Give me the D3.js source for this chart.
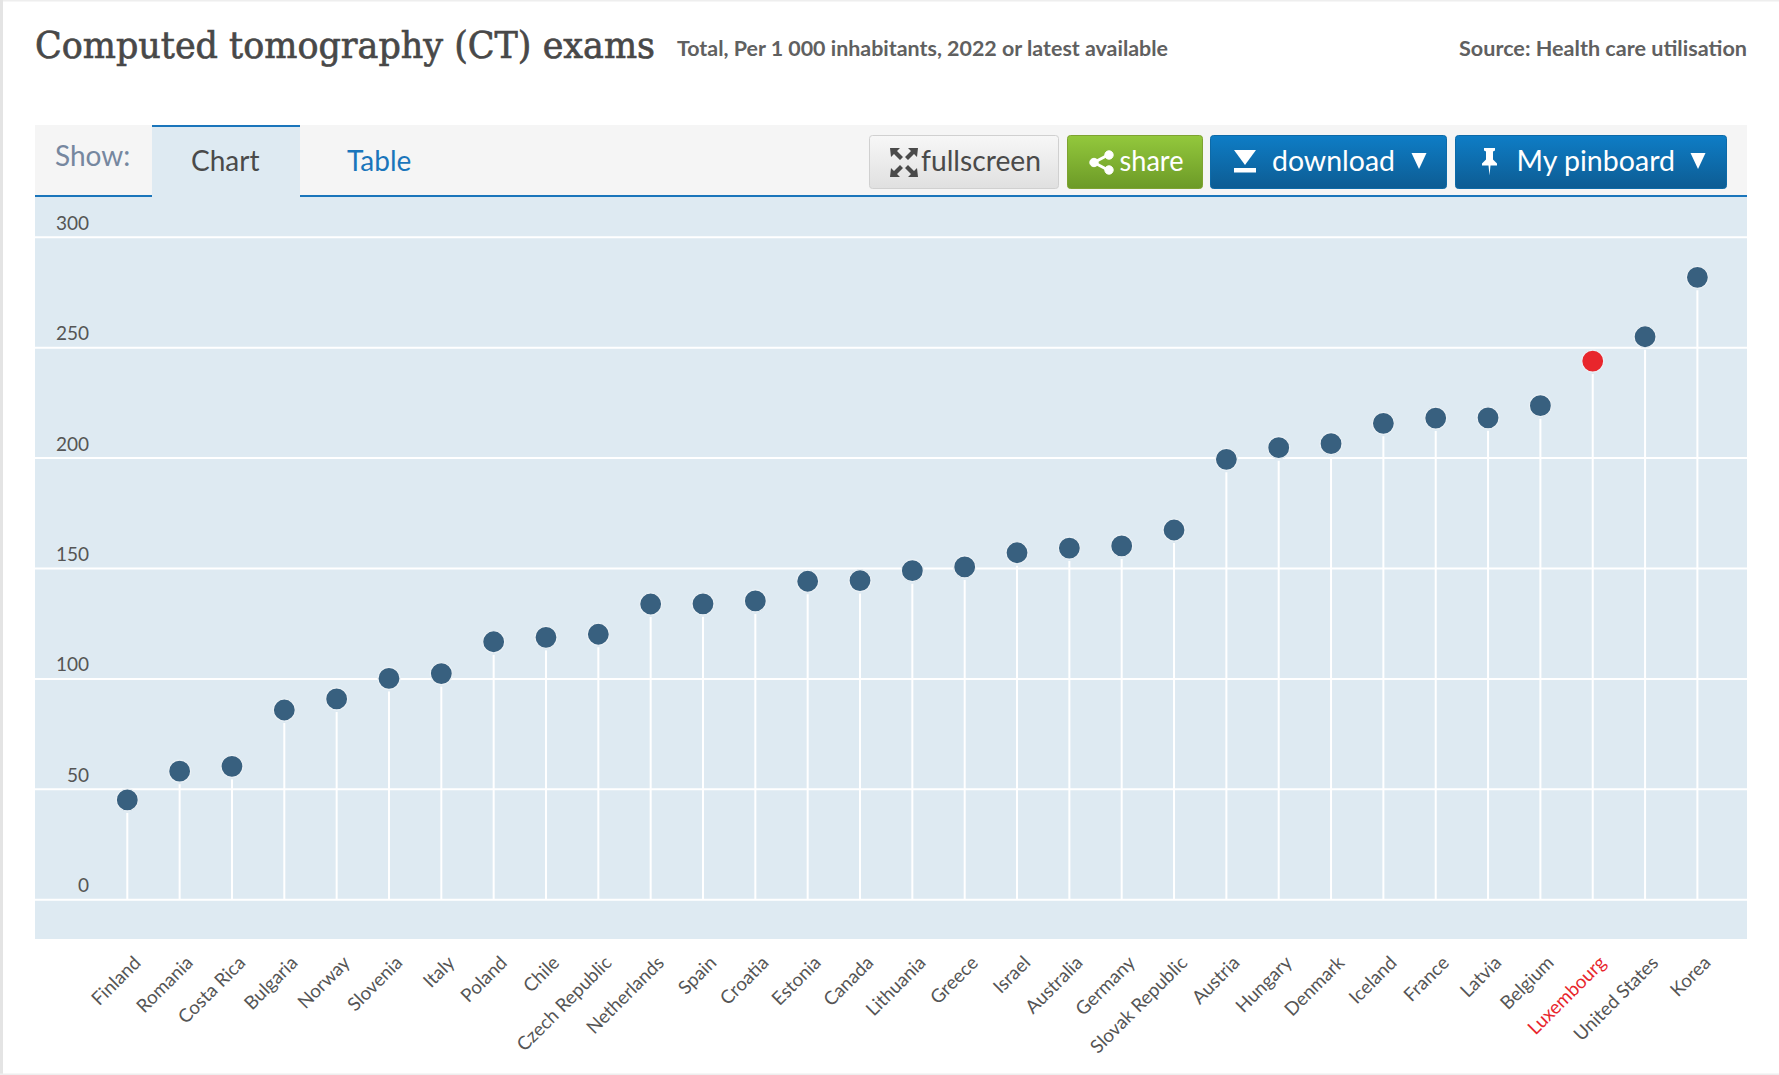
<!DOCTYPE html>
<html><head><meta charset="utf-8">
<script src="https://cdn.jsdelivr.net/npm/d3@7"></script>
<style>
html,body{margin:0;padding:0;background:#fff;overflow:hidden}
svg{display:block}
text{font-family:Lato,"Open Sans",sans-serif}
.x text{font-size:18.7px;fill:#555}
.y text{font-size:19px;fill:#555}
.x path,.x line,.y path{display:none}
.y line{stroke:#fff;stroke-width:2}
.btn{font-size:28px}
</style></head><body>
<svg id="c" width="1779" height="1075"></svg>
<script>
const countries=["Finland","Romania","Costa Rica","Bulgaria","Norway","Slovenia","Italy","Poland","Chile","Czech Republic","Netherlands","Spain","Croatia","Estonia","Canada","Lithuania","Greece","Israel","Australia","Germany","Slovak Republic","Austria","Hungary","Denmark","Iceland","France","Latvia","Belgium","Luxembourg","United States","Korea"];
const values=[45,58,60.2,85.7,90.7,100,102.2,116.6,118.6,120,133.7,133.8,135.1,144,144.3,148.8,150.5,156.9,159,160,167.2,199.2,204.5,206.3,215.5,217.9,218,223.5,243.7,254.7,281.6];
const yTicks=[0,50,100,150,200,250,300];
const highlight="Luxembourg";
const blue="#1a75bb",panel="#deeaf2",dot="#38607f",red="#e8262c";

const svg=d3.select("#c");
const defs=svg.append("defs");
function grad(id,a,b){const g=defs.append("linearGradient").attr("id",id).attr("x1",0).attr("x2",0).attr("y1",0).attr("y2",1);
 g.append("stop").attr("offset",0).attr("stop-color",a);g.append("stop").attr("offset",1).attr("stop-color",b);}
grad("gGrey","#f7f7f7","#e0e0e0");grad("gGreen","#93c83c","#6c9a27");grad("gBlue","#0e7dc6","#0d5c93");

// page edges
svg.append("rect").attr("x",0).attr("y",0).attr("width",1779).attr("height",1.5).attr("fill","#eeeeee");
svg.append("rect").attr("x",0).attr("y",0).attr("width",3).attr("height",1075).attr("fill","#e4e4e4");
svg.append("rect").attr("x",0).attr("y",1073.5).attr("width",1779).attr("height",1.5).attr("fill","#eeeeee");

// header
svg.append("text").attr("x",35).attr("y",58).attr("textLength",620).attr("lengthAdjust","spacingAndGlyphs")
 .style("font-family","'DejaVu Serif',serif").style("font-size","38px").attr("fill","#484848").attr("stroke","#484848").attr("stroke-width",0.7).text("Computed tomography (CT) exams");
svg.append("text").attr("x",677).attr("y",56).attr("textLength",491).attr("lengthAdjust","spacingAndGlyphs")
 .style("font-size","20px").style("font-weight",700).attr("fill","#606060").text("Total, Per 1 000 inhabitants, 2022 or latest available");
svg.append("text").attr("x",1459).attr("y",56).attr("textLength",288).attr("lengthAdjust","spacingAndGlyphs")
 .style("font-size","20px").style("font-weight",700).attr("fill","#606060").text("Source: Health care utilisation");

// tab bar + panel
svg.append("rect").attr("x",35).attr("y",125).attr("width",1712).attr("height",71).attr("fill","#f5f5f5");
svg.append("rect").attr("x",35).attr("y",195).attr("width",1712).attr("height",744).attr("fill",panel);
svg.append("rect").attr("x",35).attr("y",195).attr("width",1712).attr("height",2).attr("fill",blue);
svg.append("rect").attr("x",152).attr("y",125).attr("width",148).attr("height",72).attr("fill",panel);
svg.append("rect").attr("x",152).attr("y",125).attr("width",148).attr("height",2).attr("fill",blue);
svg.append("text").attr("x",55).attr("y",166).style("font-size","28px").attr("fill","#76879f").text("Show:");
svg.append("text").attr("x",191).attr("y",171).style("font-size","28px").attr("fill","#4a4a4a").text("Chart");
svg.append("text").attr("x",347).attr("y",171).style("font-size","28px").attr("fill",blue).text("Table");

// buttons
function btn(x,w,fill,stroke){svg.append("rect").attr("x",x+.5).attr("y",135.5).attr("width",w-1).attr("height",53).attr("rx",3).attr("fill",`url(#${fill})`).attr("stroke",stroke);}
function label(x,t,c,len){const s=svg.append("text").attr("class","btn").attr("x",x).attr("y",171).attr("fill",c).text(t);if(len)s.attr("textLength",len).attr("lengthAdjust","spacingAndGlyphs");}
btn(869,190,"gGrey","#d0d0d0");btn(1067,136,"gGreen","#7ea331");btn(1210,237,"gBlue","#0d6aa8");btn(1455,272,"gBlue","#0d6aa8");
label(921,"fullscreen","#4a4a4a",120);
label(1119.5,"share","#fff",64);
label(1272,"download","#fff",123);
label(1516.5,"My pinboard","#fff",158.5);
function tri(cx,cy){svg.append("path").attr("d",`M${cx-7.5},${cy-8}h15l-7.5,16z`).attr("fill","#fff");}
tri(1419,161);tri(1698,161);
// fullscreen icon
const fs=svg.append("g").attr("fill","#4a4a4a");
[[890,148,1,1],[918,148,-1,1],[890,177,1,-1],[918,177,-1,-1]].forEach(([x,y,a,b])=>{
 fs.append("path").attr("d",`M${x},${y}h${10*a}l${-3*a},${3*b}l${6*a},${6*b}l${-3*a},${3*b}l${-6*a},${-6*b}l${-3*a},${3*b}z`);});
// share icon
const sh=svg.append("g").attr("fill","#fff").attr("stroke","#fff");
sh.append("path").attr("d","M1108,155L1094,162.5L1108,170").attr("fill","none").attr("stroke-width",3);
[[1109,155],[1094,162.5],[1109,170]].forEach(p=>sh.append("circle").attr("cx",p[0]).attr("cy",p[1]).attr("r",4.2));
// download icon
svg.append("path").attr("d","M1234,150h22l-11,15z").attr("fill","#fff");
svg.append("rect").attr("x",1234).attr("y",168).attr("width",22).attr("height",4.5).attr("fill","#fff");
// pin icon
svg.append("path").attr("d","M1484,148h11v2.5l-2,1v8l4,4v2h-6.5l-1,10l-1,-10h-6.500v-2l4,-4v-8l-2,-1z").attr("fill","#fff");

// scales
const x=d3.scalePoint().domain(countries).range([127.3,1697.4]);
const y=d3.scaleLinear().domain([0,300]).range([899.3,236.7]);

// y axis with full-width gridlines
const yAxis=svg.append("g").attr("class","y").attr("transform","translate(35,0)")
 .call(d3.axisLeft(y).tickValues(yTicks).tickSize(-1712));
yAxis.selectAll("text").attr("x",54).attr("dy",-7.5).attr("text-anchor","end").attr("y",0);

// stems
svg.append("g").selectAll("line").data(countries).join("line")
 .attr("x1",d=>x(d)).attr("x2",d=>x(d))
 .attr("y1",(d,i)=>y(values[i])+13).attr("y2",y(0))
 .attr("stroke","#fff").attr("stroke-width",2);

// dots
svg.append("g").selectAll("circle").data(countries).join("circle")
 .attr("cx",d=>x(d)).attr("cy",(d,i)=>y(values[i])).attr("r",11)
 .attr("fill",d=>d===highlight?red:dot).attr("stroke","#eaf1f6").attr("stroke-width",1.2);

// x axis labels
const xAxis=svg.append("g").attr("class","x").attr("transform","translate(0,950)")
 .call(d3.axisBottom(x).tickSize(0).tickPadding(0));
xAxis.selectAll("text")
 .attr("text-anchor","end").attr("dy",0).attr("y",0).attr("x",0)
 .attr("transform","translate(14,14) rotate(-45)")
 .style("fill",d=>d===highlight?red:"#555");
</script>
</body></html>
